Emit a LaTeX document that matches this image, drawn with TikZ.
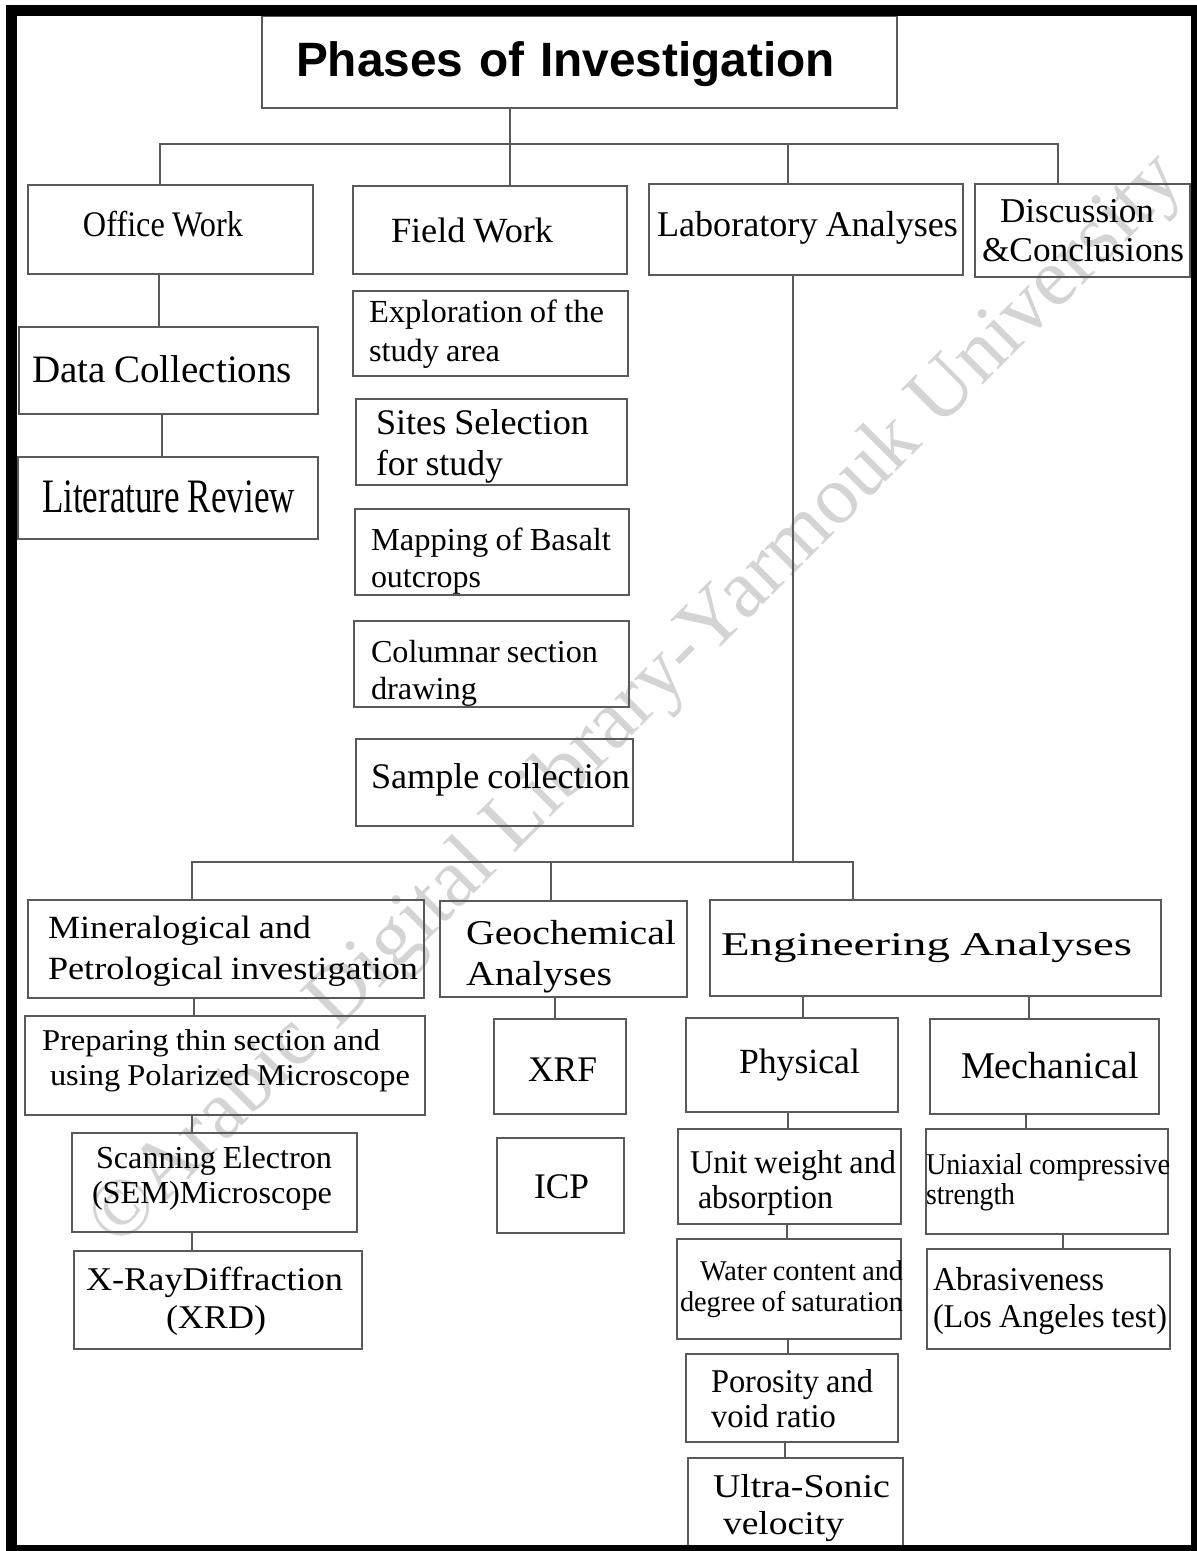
\documentclass[tikz,border=0pt]{standalone}
\usepackage{fontspec}
\usepackage{graphicx}
\setmainfont{Liberation Serif}
\newfontfamily\sansb{Liberation Sans}
\newdimen\pxu \pxu=0.5pt
\newdimen\bxw \newdimen\bxh \newdimen\bxp \newdimen\bxt
\newdimen\bxd \newdimen\bxth \newdimen\bxtd
\newsavebox\fwbox
\newcommand\fw[2]{\sbox\fwbox{\spaceskip=0.22em\relax #2}\resizebox{#1\pxu}{\ht\fwbox}{\usebox\fwbox}}
\newcommand\fwn[2]{\sbox\fwbox{#2}\resizebox{#1\pxu}{\ht\fwbox}{\usebox\fwbox}}
\newcommand\ind[1]{\hspace*{#1\pxu}}
% name, x1, y1, x2, y2, text-left, {size}{baselineskip}, first baseline y, content
\newcommand\bx[9]{%
  \bxw=\numexpr#4-#2\relax\pxu
  \bxh=\numexpr#5-#3\relax\pxu
  \bxp=\numexpr#6-#2\relax\pxu
  \bxt=\numexpr#4+#2-2*#6\relax\pxu
  \bxd=\numexpr2*#8-#3-#5\relax\pxu
  \ifdim\bxd<0pt \bxth=0pt \bxtd=-\bxd \else \bxth=\bxd \bxtd=0pt \fi
  \def\bxf{\fontsize#7\selectfont}%
  \node[box, minimum width=\bxw, minimum height=\bxh, inner xsep=\bxp,
        text width=\bxt, text height=\bxth, text depth=\bxtd, font=\bxf]
        (#1) at ({(#2+#4)/2},{(#3+#5)/2}) {\lineskiplimit=-20pt\relax\lineskip=0pt\relax #9};}
\tikzset{
  box/.style={draw=black!65, line width=2\pxu, inner ysep=0pt, align=left, rectangle},
  conn/.style={draw=black!65, line width=1.6\pxu},
}
\begin{document}
\begin{tikzpicture}[x=0.5pt,y=-0.5pt]
\useasboundingbox (0,0) rectangle (1196,1551);
\fill[white] (0,0) rectangle (1196,1551);
% watermark
\node[text=black!17, rotate=45, inner sep=0pt, font=\fontsize{40pt}{40pt}\selectfont] (wm) at (638,702)
  {\resizebox{1510\pxu}{!}{©Arabic Digital Library-Yarmouk University}};
% top level
\bx{title}{262}{16}{897}{108}{296}{{24.1pt}{28pt}}{77}{\sansb\bfseries\fwn{539}{Phases of Investigation}}
\bx{office}{28}{185}{313}{274}{83}{{18pt}{20pt}}{237}{\fw{160}{Office Work}}
\bx{field}{353}{186}{627}{274}{391}{{17.7pt}{20pt}}{243}{\fw{162}{Field Work}}
\bx{lab}{649}{184}{963}{275}{657}{{18.1pt}{20pt}}{237}{\fw{301}{Laboratory Analyses}}
\bx{disc}{975}{184}{1190}{277}{982}{{17.4pt}{19.5pt}}{223}{\ind{18}\fw{154}{Discussion}\\\fw{202}{\&Conclusions}}
% office work column
\bx{datacol}{19}{327}{318}{414}{32}{{19.4pt}{20pt}}{382}{\fw{260}{Data Collections}}
\bx{litrev}{18}{457}{318}{539}{42}{{24pt}{24pt}}{512}{\fw{253}{Literature Review}}
% field work column
\bx{explor}{353}{291}{628}{376}{369}{{16.1pt}{19.5pt}}{323}{\fw{235}{Exploration of the}\\\fw{131}{study area}}
\bx{sites}{356}{399}{627}{485}{376}{{18pt}{20.5pt}}{434}{\fw{213}{Sites Selection}\\\fw{127}{for study}}
\bx{mapping}{355}{509}{629}{595}{371}{{16pt}{18.5pt}}{550}{\fw{240}{Mapping of Basalt}\\\fw{110}{outcrops}}
\bx{columnar}{354}{621}{629}{707}{371}{{16pt}{18.5pt}}{662}{\fw{227}{Columnar section}\\\fw{106}{drawing}}
\bx{sample}{356}{739}{633}{826}{371}{{18pt}{20pt}}{788}{\fw{259}{Sample collection}}
% laboratory sub-branches
\bx{min}{28}{900}{424}{998}{48}{{16.2pt}{20.5pt}}{938}{\fw{263}{Mineralogical and}\\\fw{370}{Petrological investigation}}
\bx{geo}{440}{901}{687}{997}{466}{{17.4pt}{20.5pt}}{944}{\fw{210}{Geochemical}\\\fw{146}{Analyses}}
\bx{eng}{710}{900}{1161}{996}{721}{{16.6pt}{20pt}}{955}{\fw{411}{Engineering Analyses}}
\bx{prep}{25}{1016}{425}{1115}{42}{{15.1pt}{17.5pt}}{1050}{\fw{338}{Preparing thin section and}\\\ind{8}\fw{360}{using Polarized Microscope}}
\bx{sem}{72}{1133}{357}{1232}{92}{{16pt}{17.5pt}}{1168}{\ind{4}\fw{236}{Scanning Electron}\\\fw{240}{(SEM)Microscope}}
\bx{xrd}{74}{1251}{362}{1349}{86}{{16.6pt}{19pt}}{1290}{\fw{257}{X-RayDiffraction}\\\ind{80}\fw{100}{(XRD)}}
\bx{xrf}{494}{1019}{626}{1114}{528}{{18pt}{20pt}}{1081}{\fw{69}{XRF}}
\bx{icp}{497}{1138}{624}{1233}{534}{{18pt}{20pt}}{1198}{\fw{55}{ICP}}
\bx{phys}{686}{1018}{898}{1112}{739}{{17.7pt}{20pt}}{1073}{\fw{121}{Physical}}
\bx{mech}{930}{1019}{1159}{1114}{961}{{18.9pt}{20pt}}{1078}{\fw{178}{Mechanical}}
\bx{unit}{678}{1129}{901}{1224}{690}{{16.6pt}{17.5pt}}{1173}{\fw{206}{Unit weight and}\\\ind{8}\fw{135}{absorption}}
\bx{water}{677}{1239}{901}{1339}{680}{{14.3pt}{15.5pt}}{1280}{\ind{20}\fw{203}{Water content and}\\\fw{223}{degree of saturation}}
\bx{poro}{686}{1354}{898}{1442}{711}{{16.6pt}{17.5pt}}{1392}{\fw{162}{Porosity and}\\\fw{125}{void ratio}}
\bx{ultra}{688}{1458}{903}{1548}{713}{{16.6pt}{18.5pt}}{1497}{\fw{177}{Ultra-Sonic}\\\ind{10}\fw{121}{velocity}}
\bx{uni}{926}{1129}{1168}{1234}{926}{{15.1pt}{15pt}}{1174}{\fw{244}{Uniaxial compressive}\\\fw{89}{strength}}
\bx{abr}{927}{1249}{1170}{1349}{933}{{16.6pt}{18.5pt}}{1290}{\fw{171}{Abrasiveness}\\\fw{234}{(Los Angeles test)}}
% junctions
\coordinate (j1) at (510,144);
\coordinate (j2) at (793,862);
% connectors, top level
\draw[conn] (title.south -| 510,0) -- (field.north -| 510,0);
\draw[conn] (office.north -| 160,0) |- (j1) -| (disc.north -| 1058,0);
\draw[conn] (j1 -| 788,0) -- (lab.north -| 788,0);
\draw[conn] (office.south -| 159,0) -- (datacol.north -| 159,0);
\draw[conn] (datacol.south -| 162,0) -- (litrev.north -| 162,0);
% laboratory
\draw[conn] (lab.south -| 793,0) -- (j2);
\draw[conn] (min.north -| 192,0) |- (j2) -| (eng.north -| 853,0);
\draw[conn] (j2 -| 551,0) -- (geo.north -| 551,0);
\draw[conn] (min.south -| 194,0) -- (prep.north -| 194,0);
\draw[conn] (prep.south -| 192,0) -- (sem.north -| 192,0);
\draw[conn] (sem.south -| 192,0) -- (xrd.north -| 192,0);
\draw[conn] (geo.south -| 555,0) -- (xrf.north -| 555,0);
\draw[conn] (eng.south -| 803,0) -- (phys.north -| 803,0);
\draw[conn] (eng.south -| 1029,0) -- (mech.north -| 1029,0);
\draw[conn] (phys.south -| 788,0) -- (unit.north -| 788,0);
\draw[conn] (unit.south -| 787,0) -- (water.north -| 787,0);
\draw[conn] (water.south -| 788,0) -- (poro.north -| 788,0);
\draw[conn] (poro.south -| 785,0) -- (ultra.north -| 785,0);
\draw[conn] (mech.south -| 1026,0) -- (uni.north -| 1026,0);
\draw[conn] (uni.south -| 1063,0) -- (abr.north -| 1063,0);
% outer frame
\draw[line width=11\pxu] (11.5,10.5) rectangle (1196.5,1550.5);
\end{tikzpicture}
\end{document}
